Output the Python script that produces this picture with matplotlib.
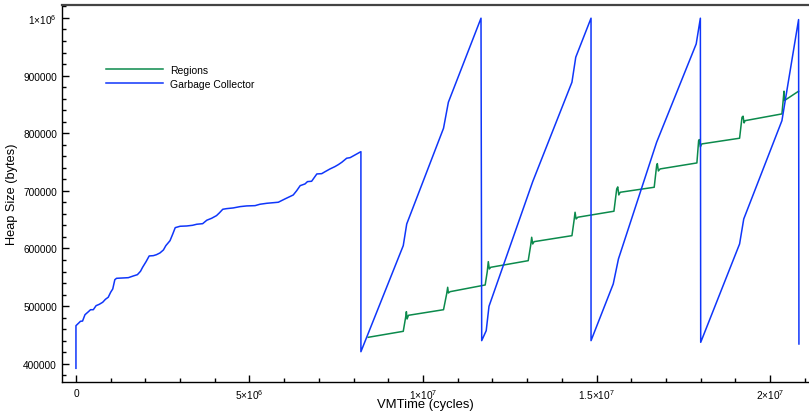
import numpy as np
import matplotlib
matplotlib.use('Agg')
import matplotlib.pyplot as plt
from matplotlib.ticker import MultipleLocator

plt.rcParams['font.family'] = ['Liberation Sans', 'DejaVu Sans']
plt.rcParams['mathtext.fontset'] = 'custom'
plt.rcParams['mathtext.rm'] = 'Liberation Sans'
plt.rcParams['mathtext.it'] = 'Liberation Sans:italic'

# Garbage collector heap size (x in millions of cycles, y in thousands of bytes)
gc_x = [0, 0, 0.07, 0.13, 0.19, 0.26, 0.36, 0.42, 0.50, 0.58, 0.67, 0.77, 0.85, 0.93,
        1.00, 1.06, 1.12, 1.17, 1.36, 1.51, 1.65, 1.77, 1.86, 1.92, 2.02, 2.11, 2.23,
        2.32, 2.42, 2.52, 2.59, 2.71, 2.79, 2.86, 3.00, 3.19, 3.36, 3.48, 3.65, 3.77,
        3.91, 4.05, 4.13, 4.23, 4.34, 4.53, 4.73, 4.92, 5.16, 5.30, 5.50, 5.83, 6.02,
        6.26, 6.36, 6.46, 6.60, 6.67, 6.79, 6.94, 7.08, 7.18, 7.32, 7.46, 7.56, 7.66,
        7.80, 7.90, 8.04, 8.21, 8.21,
        9.43, 9.53, 10.59, 10.73, 11.67, 11.69, 11.82, 11.90, 13.16, 14.29, 14.40,
        14.84, 14.84, 15.48, 15.63, 16.73, 17.87, 17.99, 18.00, 19.12, 19.24, 20.34,
        20.82, 20.83]
gc_y = [392, 466, 470, 473.6, 474, 485, 490.3, 493.7, 493.7, 500.7, 503, 506.6, 511.8,
        515.3, 524, 529.7, 545.8, 548.2, 548.8, 549.3, 552.2, 554.5, 560.4, 567.3,
        577.1, 587, 587.5, 589.2, 592.2, 597.4, 604.9, 613.5, 625.2, 636.1, 638.5, 639,
        640.2, 642, 643, 649, 652.4, 657, 661.6, 668, 669.1, 670.3, 672.6, 673.8, 674.3,
        676.7, 678.4, 680.2, 685.9, 692.8, 700.3, 709, 712, 716, 716.6, 729.3, 729.8,
        733.3, 738, 742, 745.5, 749.6, 756.6, 757.6, 762.3, 768, 420.8,
        604.9, 642.5, 808.6, 853.8, 999.6, 440, 457.3, 499.6, 716, 888.5, 931.9,
        999.6, 440, 538.4, 581.8, 784.3, 954.9, 999.6, 437.1, 607.8, 651.2, 821.8,
        997.2, 434.2]

# Regions heap size
reg_x = [8.42, 9.43, 9.50, 9.52, 9.54, 9.58, 10.59, 10.68, 10.71, 10.73, 10.78,
         11.79, 11.85, 11.88, 11.91, 11.95, 13.03, 13.10, 13.13, 13.16, 13.20,
         14.29, 14.35, 14.38, 14.41, 14.46, 15.50, 15.58, 15.61, 15.64, 15.68,
         16.66, 16.73, 16.75, 16.78, 16.83, 17.89, 17.94, 17.96, 17.99, 18.03,
         19.12, 19.19, 19.22, 19.25, 19.28, 20.34, 20.40, 20.41, 20.82]
reg_y = [445.8, 456.2, 481.1, 490.3, 477.6, 484, 493.7, 521, 532.6, 522.7, 525,
         536.6, 559.7, 577.1, 564.4, 567.3, 578.8, 604.9, 619.4, 607.8, 611.8,
         622.2, 648.2, 662.8, 651.2, 654.2, 664.6, 703.3, 706.8, 692.9, 697.5,
         706.2, 743.7, 747.2, 734.5, 738, 748.4, 787.1, 788.9, 776.2, 781.4,
         791.3, 827.7, 829.5, 817.9, 821.8, 833.5, 872.9, 856.6, 872.9]

x_ticks = [0, 5e6, 1e7, 1.5e7, 2e7]
x_labels = ['0', r'$5{\times}10^{6}$', r'$1{\times}10^{7}$', r'$1.5{\times}10^{7}$', r'$2{\times}10^{7}$']
y_ticks = [400000, 500000, 600000, 700000, 800000, 900000, 1000000]
y_labels = ['400000', '500000', '600000', '700000', '800000', '900000', r'$1{\times}10^{6}$']

fig = plt.figure(figsize=(8.09, 4.14), dpi=100)
ax = fig.add_axes([0.0766, 0.0756, 0.9234, 0.9106])

ax.plot(np.array(reg_x) * 1e6, np.array(reg_y) * 1e3, color='#0b8a4c', lw=1.1, label='Regions')
ax.plot(np.array(gc_x) * 1e6, np.array(gc_y) * 1e3, color='#0f36fa', lw=1.1, label='Garbage Collector')

ax.set_xlim(-0.403e6, 21.12e6)
ax.set_ylim(368750, 1023000)

ax.set_xticks(x_ticks)
ax.set_xticklabels(x_labels)
ax.set_yticks(y_ticks)
ax.set_yticklabels(y_labels)
ax.xaxis.set_minor_locator(MultipleLocator(1e6))
ax.yaxis.set_minor_locator(MultipleLocator(20000))
ax.tick_params(which='both', direction='in', labelsize=7.3, width=1.0, top=False, right=False)
ax.tick_params(which='major', length=5.3)
ax.tick_params(which='minor', length=3)
ax.tick_params(axis='y', pad=3.6)
ax.tick_params(axis='x', pad=4.3)

ax.spines['right'].set_visible(False)
ax.spines['top'].set_color('#444444')
ax.spines['top'].set_linewidth(1.6)
ax.spines['left'].set_linewidth(1.0)
ax.spines['bottom'].set_linewidth(1.0)

ax.set_ylabel('Heap Size (bytes)', fontsize=9.2, labelpad=4)
ax.set_xlabel('VMTime (cycles)', fontsize=9.4, labelpad=0)
ax.xaxis.set_label_coords(0.487, -0.043)

ax.legend(loc='upper left', bbox_to_anchor=(0.059, 0.841), frameon=False, fontsize=7.5,
          handlelength=5.5, handletextpad=0.65, labelspacing=0.4, borderpad=0, borderaxespad=0)

fig.savefig('out.png', dpi=100)
